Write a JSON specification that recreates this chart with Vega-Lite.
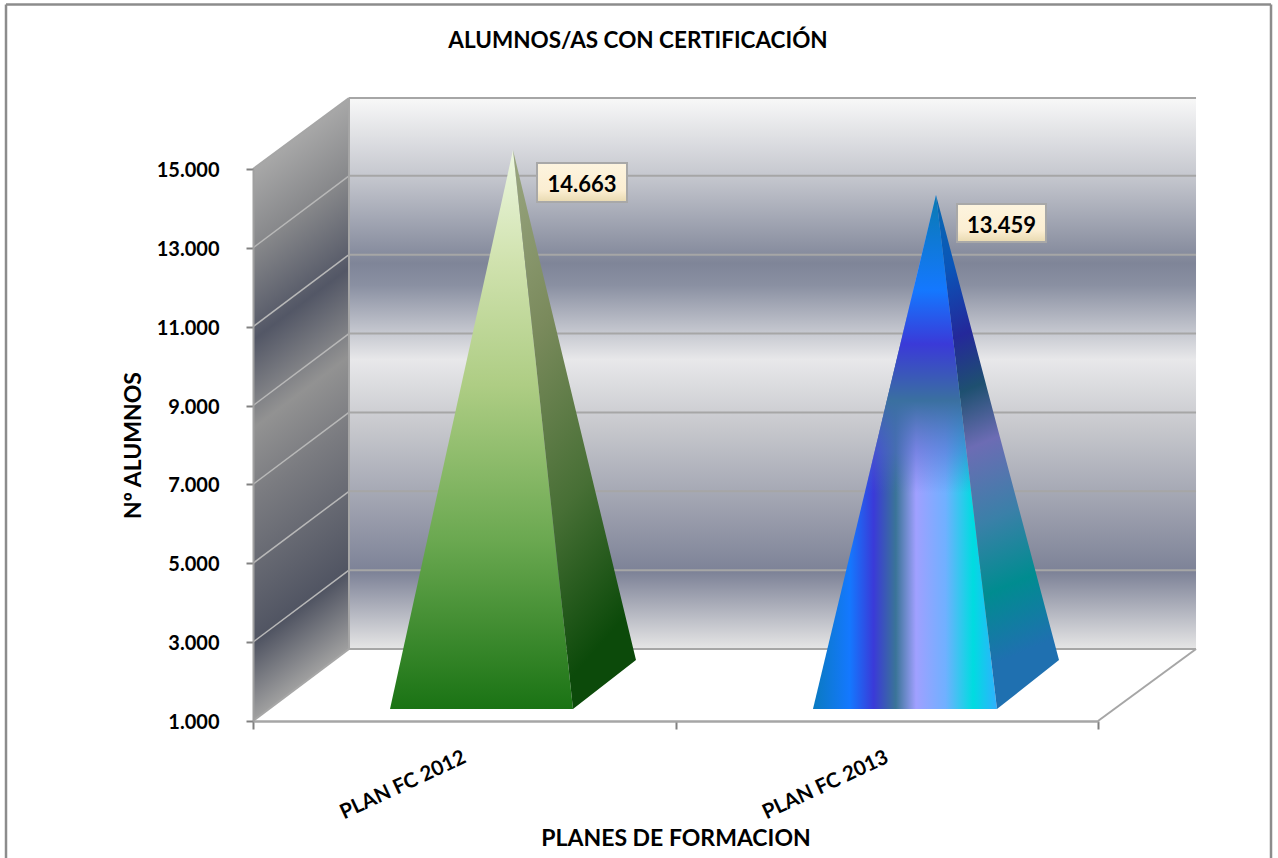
{
"$schema":"https://vega.github.io/schema/vega-lite/v6.json",
"width":845,"height":552,
"autosize":{"type":"none"},
"padding":{"left":253,"top":169,"right":180,"bottom":137},
"background":"white",
"config":{"view":{"stroke":null},"font":"Lato"},
"datasets":{
"frame":[{"x":-0.5846,"x2":-0.5846,"y":-2475,"y2":19172},{"x":-0.5846,"x2":2.4095,"y":19172,"y2":19172},{"x":2.4095,"x2":2.4095,"y":-2475,"y2":19172}],
"chartTitle":[{"x":0.9112,"y":18246,"text":"ALUMNOS/AS CON CERTIFICACIÓN"}],
"sideWall":[{"x":0,"y":1000,"y2":15000},{"x":0.2272,"y":2826,"y2":16800}],
"backWall":[{"x":0.2272,"x2":2.232,"y":2826,"y2":16800}],
"sideGrid":[{"x":0,"x2":0.2272,"y":3000,"y2":4826},{"x":0,"x2":0.2272,"y":5000,"y2":6826},{"x":0,"x2":0.2272,"y":7000,"y2":8826},{"x":0,"x2":0.2272,"y":9000,"y2":10826},{"x":0,"x2":0.2272,"y":11000,"y2":12826},{"x":0,"x2":0.2272,"y":13000,"y2":14826}],
"backGrid":[{"x":0.2272,"x2":2.232,"y":2826,"y2":2826},{"x":0.2272,"x2":2.232,"y":4826,"y2":4826},{"x":0.2272,"x2":2.232,"y":6826,"y2":6826},{"x":0.2272,"x2":2.232,"y":8826,"y2":8826},{"x":0.2272,"x2":2.232,"y":10826,"y2":10826},{"x":0.2272,"x2":2.232,"y":12826,"y2":12826},{"x":0.2272,"x2":2.232,"y":14826,"y2":14826},{"x":0.2272,"x2":2.232,"y":16800,"y2":16800}],
"edges":[{"x":0.2272,"x2":0.2272,"y":2826,"y2":16800},{"x":2,"x2":2.232,"y":1000,"y2":2826},{"x":0,"x2":0.2272,"y":1000,"y2":2826},{"x":0,"x2":0.2272,"y":15000,"y2":16800}],
"p1front":[{"x":0.3243,"y":1304,"y2":1304},{"x":0.6154,"y":15482,"y2":1304},{"x":0.7574,"y":1304,"y2":1304}],
"p1side":[{"x":0.6154,"y":15482,"y2":15482},{"x":0.7574,"y":9167,"y2":1304},{"x":0.9065,"y":2547,"y2":2547}],
"p2front":[{"x":1.3254,"y":1304,"y2":1304},{"x":1.6166,"y":14340,"y2":1304},{"x":1.7609,"y":1304,"y2":1304}],
"p2side":[{"x":1.6166,"y":14340,"y2":14340},{"x":1.7609,"y":8482,"y2":1304},{"x":1.9077,"y":2547,"y2":2547}],
"boxes":[{"x":0.6722,"x2":0.8852,"y":14163,"y2":15152},{"x":1.6663,"x2":1.8769,"y":13148,"y2":14112}],
"labels":[{"x":0.7787,"y":14590,"plan":"PLAN FC 2012","alumnos":"14.663"},{"x":1.7716,"y":13560,"plan":"PLAN FC 2013","alumnos":"13.459"}]
},
"encoding":{
"x":{"field":"x","type":"quantitative","scale":{"domain":[0,2],"nice":false,"zero":false},
 "axis":{"values":[0,0.5,1,1.5,2],"grid":false,"zindex":1,"domainColor":"#a6a6a6","domainWidth":2.5,"tickColor":"#808080","tickWidth":2,"tickSize":8,
  "tickOpacity":{"condition":{"test":"datum.value==0.5||datum.value==1.5","value":0},"value":1},
  "labelExpr":"datum.value==0.5?'PLAN FC 2012':datum.value==1.5?'PLAN FC 2013':''",
  "labelAngle":-25,"labelAlign":"right","labelBaseline":"middle","labelPadding":27,"labelFontSize":20.5,"labelFontWeight":"bold","labelFont":"Lato","labelColor":"#000000","labelOverlap":false,"labelBound":false,
  "title":"PLANES DE FORMACION","titleFontSize":23,"titleFontWeight":"bold","titleFont":"Lato","titleColor":"#000000","titlePadding":5}},
"y":{"field":"y","type":"quantitative","stack":null,"scale":{"domain":[1000,15000],"nice":false,"zero":false},
 "axis":{"values":[1000,3000,5000,7000,9000,11000,13000,15000],"grid":false,"zindex":1,"domainColor":"#a0a0a0","domainWidth":2,"tickColor":"#808080","tickWidth":2,"tickSize":7,
  "labelExpr":"replace(format(datum.value,','),',','.')","labelPadding":27,"labelOffset":1.5,"labelFontSize":20,"labelFontWeight":"bold","labelFont":"Lato","labelColor":"#000000",
  "title":"Nº ALUMNOS","titleFontSize":23,"titleFontWeight":"bold","titleFont":"Lato","titleColor":"#000000","titlePadding":11}}
},
"layer":[
{"data":{"name":"frame"},"mark":{"type":"rule","color":"#8c8c8c","strokeWidth":2.5},"encoding":{"x2":{"field":"x2"},"y2":{"field":"y2"}}},
{"data":{"name":"chartTitle"},"mark":{"type":"text","fontSize":22.5,"fontWeight":"bold","font":"Lato","color":"#000000","align":"center","baseline":"middle"},"encoding":{"text":{"field":"text"}}},
{"data":{"name":"sideWall"},"mark":{"type":"area","orient":"vertical","fill":{"gradient":"linear","x1":0,"y1":0.114,"x2":0.101,"y2":0.988,"stops":[{"offset":0,"color":"#a8a8a8"},{"offset":0.15,"color":"#858689"},{"offset":0.31,"color":"#535766"},{"offset":0.47,"color":"#929292"},{"offset":0.6,"color":"#7a7b80"},{"offset":0.86,"color":"#505462"},{"offset":1,"color":"#a0a0a0"}]}},"encoding":{"y2":{"field":"y2"}}},
{"data":{"name":"backWall"},"mark":{"type":"rect","fill":{"gradient":"linear","x1":0,"y1":0,"x2":0,"y2":1,"stops":[{"offset":0,"color":"#f8f8f8"},{"offset":0.14,"color":"#c6c8cf"},{"offset":0.3,"color":"#7f8598"},{"offset":0.34,"color":"#8a90a2"},{"offset":0.475,"color":"#e8e8ea"},{"offset":0.6,"color":"#c6c7cc"},{"offset":0.86,"color":"#7d8297"},{"offset":1,"color":"#e6e6e6"}]}},"encoding":{"x2":{"field":"x2"},"y2":{"field":"y2"}}},
{"data":{"name":"sideGrid"},"mark":{"type":"rule","color":"#b8b8b8","strokeWidth":1.5},"encoding":{"x2":{"field":"x2"},"y2":{"field":"y2"}}},
{"data":{"name":"backGrid"},"mark":{"type":"rule","color":"#a6a6a6","strokeWidth":2},"encoding":{"x2":{"field":"x2"},"y2":{"field":"y2"}}},
{"data":{"name":"edges"},"mark":{"type":"rule","color":"#a6a6a6","strokeWidth":2},"encoding":{"x2":{"field":"x2"},"y2":{"field":"y2"}}},
{"data":{"name":"p1front"},"mark":{"type":"area","orient":"vertical","fill":{"gradient":"linear","x1":0,"y1":0,"x2":0,"y2":1,"stops":[{"offset":0,"color":"#edf7e0"},{"offset":0.2,"color":"#d0e2ae"},{"offset":0.42,"color":"#aecd84"},{"offset":0.7,"color":"#6aa850"},{"offset":1,"color":"#1a7314"}]}},"encoding":{"y2":{"field":"y2"}}},
{"data":{"name":"p1side"},"mark":{"type":"area","orient":"vertical","fill":{"gradient":"linear","x1":0,"y1":0,"x2":0.25,"y2":1,"stops":[{"offset":0,"color":"#9aa681"},{"offset":0.35,"color":"#7a8a5c"},{"offset":0.7,"color":"#476f35"},{"offset":1,"color":"#0c4a0a"}]}},"encoding":{"y2":{"field":"y2"}}},
{"data":{"name":"p2front"},"mark":{"type":"area","orient":"vertical","fill":{"gradient":"linear","x1":0,"y1":0,"x2":1,"y2":0,"stops":[{"offset":0,"color":"#0a7ac0"},{"offset":0.2,"color":"#1478ff"},{"offset":0.33,"color":"#3a3ad8"},{"offset":0.45,"color":"#3a7498"},{"offset":0.56,"color":"#a0a0ff"},{"offset":0.72,"color":"#70b0ff"},{"offset":0.87,"color":"#00dce0"},{"offset":1,"color":"#30b0ff"}]}},"encoding":{"y2":{"field":"y2"}}},
{"data":{"name":"p2front"},"mark":{"type":"area","orient":"vertical","fill":{"gradient":"linear","x1":0,"y1":0,"x2":0,"y2":1,"stops":[{"offset":0,"color":"rgba(10,122,176,1)"},{"offset":0.185,"color":"rgba(20,120,255,1)"},{"offset":0.29,"color":"rgba(58,58,216,1)"},{"offset":0.4,"color":"rgba(58,112,160,1)"},{"offset":0.5,"color":"rgba(80,104,200,0.5)"},{"offset":0.58,"color":"rgba(80,104,200,0)"},{"offset":1,"color":"rgba(80,104,200,0)"}]}},"encoding":{"y2":{"field":"y2"}}},
{"data":{"name":"p2side"},"mark":{"type":"area","orient":"vertical","fill":{"gradient":"linear","x1":0,"y1":0,"x2":0.1,"y2":1,"stops":[{"offset":0,"color":"#0a6ab0"},{"offset":0.15,"color":"#0a55b8"},{"offset":0.29,"color":"#24289a"},{"offset":0.4,"color":"#1e5070"},{"offset":0.515,"color":"#6c6cb4"},{"offset":0.67,"color":"#3a80a8"},{"offset":0.81,"color":"#008c90"},{"offset":0.95,"color":"#1f70b0"},{"offset":1,"color":"#1f70b0"}]}},"encoding":{"y2":{"field":"y2"}}},
{"data":{"name":"boxes"},"mark":{"type":"rect","stroke":"#a8a8a8","strokeWidth":2,"fill":{"gradient":"linear","x1":0,"y1":0,"x2":0,"y2":1,"stops":[{"offset":0,"color":"#fdf4df"},{"offset":0.7,"color":"#fbeed2"},{"offset":1,"color":"#e8d9b0"}]}},"encoding":{"x2":{"field":"x2"},"y2":{"field":"y2"}}},
{"data":{"name":"labels"},"mark":{"type":"text","fontSize":22,"fontWeight":"bold","font":"Lato","color":"#000000","align":"center","baseline":"middle"},"encoding":{"text":{"field":"alumnos"}}}
]
}
